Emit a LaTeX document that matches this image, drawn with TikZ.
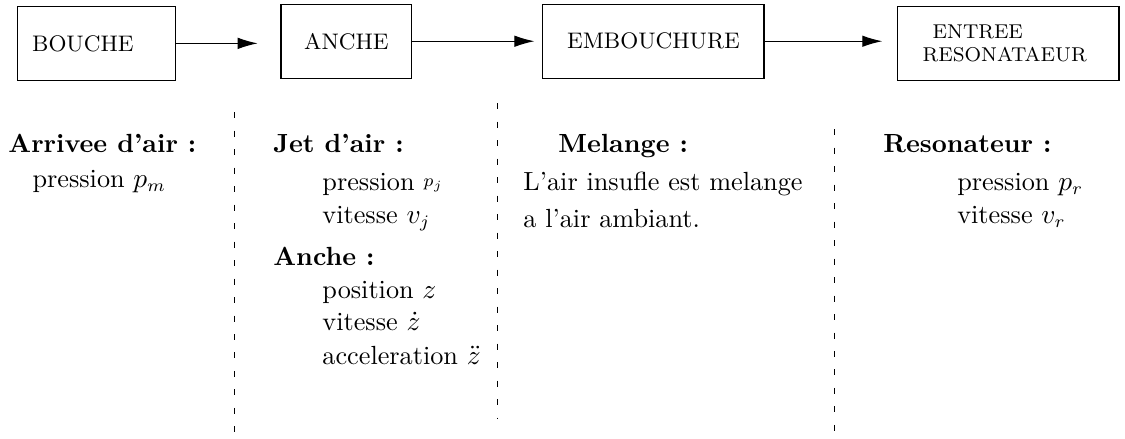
\documentclass[tikz,border=0pt]{standalone}
\usepackage{amsmath,amssymb}
\usepackage{tikz}
\usetikzlibrary{arrows.meta,positioning}

\begin{document}
\begin{tikzpicture}
  % Styles
  \tikzstyle{block} = [rectangle, draw=black, line width=0.45pt, minimum height=1.04cm, inner xsep=0.2cm, font=\small]
  \tikzstyle{flow} = [line width=0.45pt, -{Latex[length=8pt, width=4.6pt]}]
  \tikzstyle{separator} = [line width=0.4pt, dash pattern=on 2.4pt off 5pt]
  \tikzstyle{heading} = [anchor=base west, inner sep=0pt, font=\fontsize{10.5pt}{12pt}\selectfont\bfseries]
  \tikzstyle{item} = [anchor=base west, inner sep=0pt, font=\fontsize{10.5pt}{12pt}\selectfont]

  \useasboundingbox (0,0) rectangle (15.82,6.16);

  % Blocks of the chain
  \node[block, minimum width=2.21cm, text width=1.81cm, align=left] (bouche) at (1.357, 5.55) {BOUCHE};
  \node[block, minimum width=1.84cm] (anche) at (4.872, 5.58) {ANCHE};
  \node[block, minimum width=3.11cm] (embouchure) at (9.188, 5.58) {EMBOUCHURE};
  \node[block, minimum width=3.11cm, text width=2.41cm, inner xsep=0.35cm, align=left, font=\footnotesize] (entree) at (14.18, 5.55) {\hspace*{4pt}ENTREE\\RESONATAEUR};

  % Flow between blocks
  \draw[flow, shorten >=0.32cm] (bouche.east) -- (bouche.east -| anche.west);
  \draw[flow, shorten >=0.11cm] (anche.east) -- (anche.east -| embouchure.west);
  \draw[flow, shorten >=0.21cm] (embouchure.east) -- (embouchure.east -| entree.west);

  % Separators
  \draw[separator] (3.304, 4.584) -- (3.304, 0.084);
  \draw[separator] (7.002, 4.710) -- (7.002, 0.281);
  \draw[separator] (11.74, 4.345) -- (11.74, 0.000);

  % Bouche
  \node[heading] (arrivee) at (0.112, 4.021) {Arrivee d'air :};
  \node[item] (pm) at (0.450, 3.529) {pression $p_m$};

  % Anche
  \node[heading] (jet) at (3.838, 4.021) {Jet d'air :};
  \node[item] (pj) at (4.527, 3.487) {pression \raisebox{1.3pt}{$\scriptstyle p_j$}};
  \node[item] (vj) at (4.527, 3.023) {vitesse $v_j$};
  \node[heading] (anchehead) at (3.838, 2.432) {Anche :};
  \node[item] (posz) at (4.527, 1.968) {position $z$};
  \node[item] (vitz) at (4.527, 1.518) {vitesse $\dot{z}$};
  \node[item] (accz) at (4.527, 1.040) {acceleration $\ddot{z}$};

  % Embouchure
  \node[heading] (melange) at (7.845, 4.021) {Melange :};
  \node[item] (mixa) at (7.353, 3.487) {L'air insufle est melange};
  \node[item] (mixb) at (7.353, 2.967) {a l'air ambiant.};

  % Resonateur
  \node[heading] (reso) at (12.415, 4.021) {Resonateur :};
  \node[item] (pr) at (13.455, 3.487) {pression $p_r$};
  \node[item] (vr) at (13.455, 3.023) {vitesse $v_r$};

\end{tikzpicture}
\end{document}
